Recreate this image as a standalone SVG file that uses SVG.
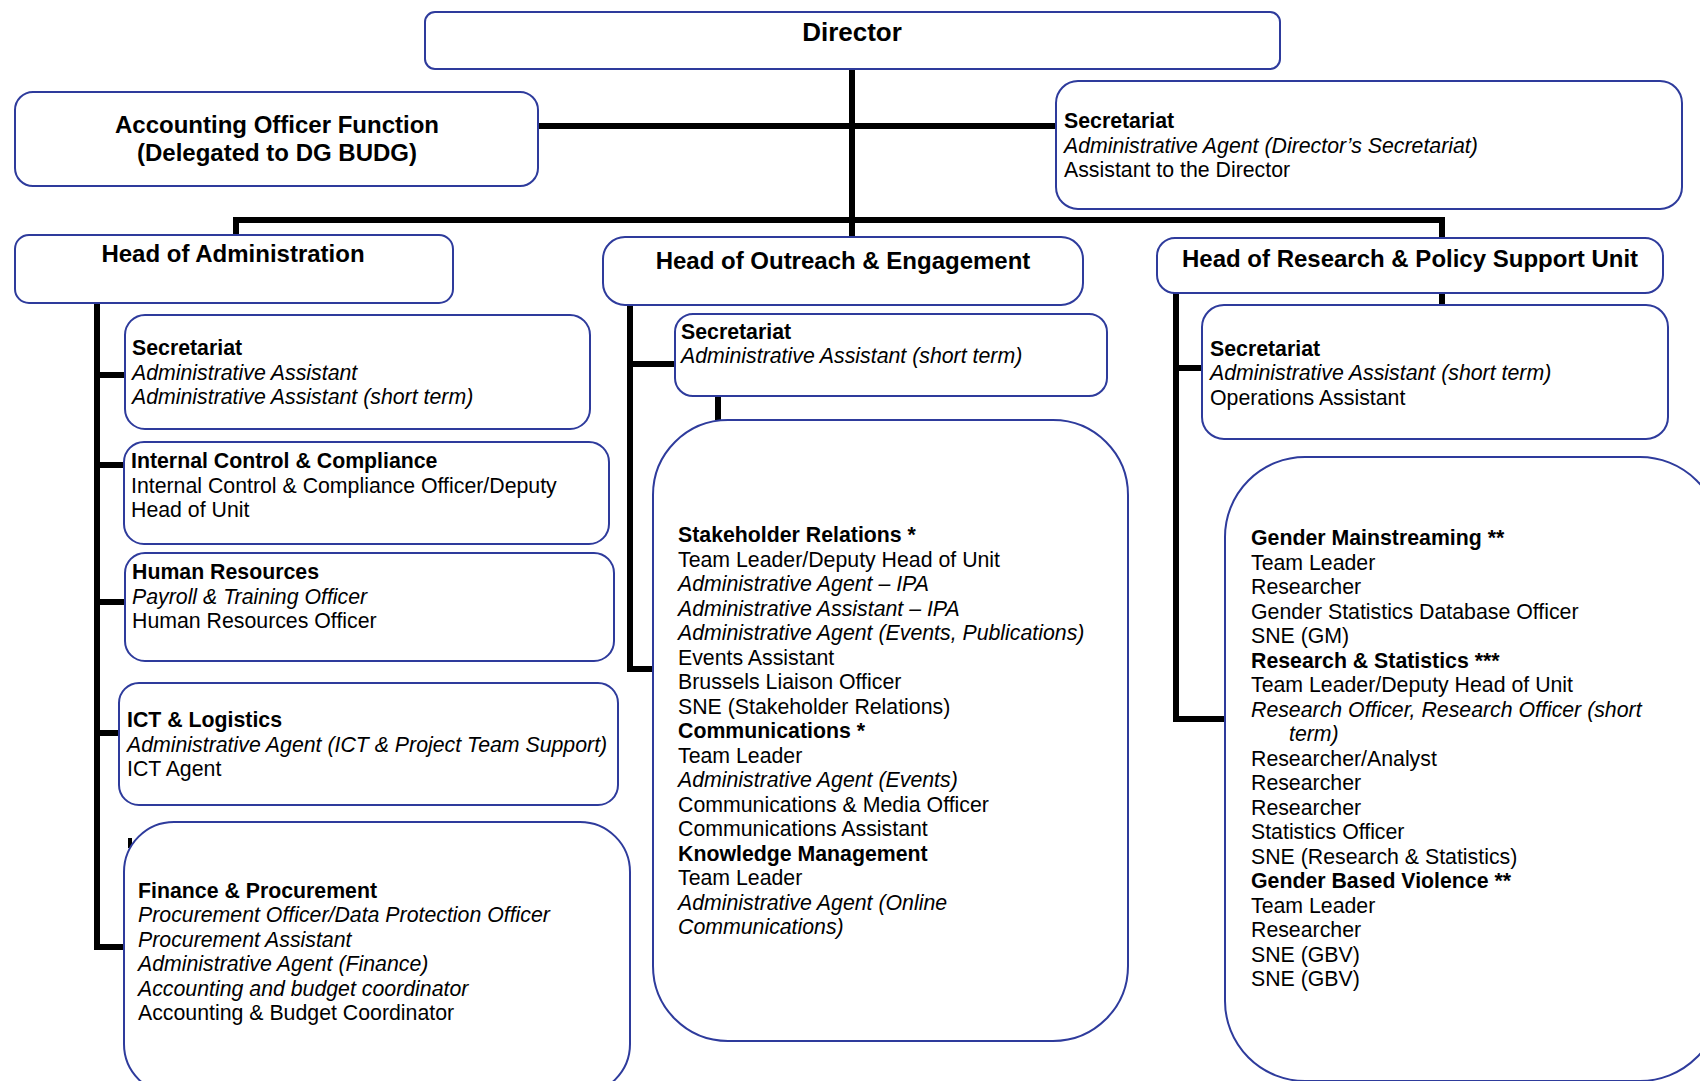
<svg xmlns="http://www.w3.org/2000/svg" width="1700" height="1081" viewBox="0 0 1700 1081">
<style>
.box{fill:#fff;stroke:#2E3B9C;stroke-width:2}
.ln{stroke:#000;stroke-width:6;fill:none;stroke-linejoin:miter}
text{font-family:"Liberation Sans",Arial,sans-serif;fill:#000}
.h{font-size:24px;font-weight:bold}
.d{font-size:26px;font-weight:bold}
.t{font-size:21.3px}
.b{font-weight:bold}
.i{font-style:italic}
</style>
<rect width="1700" height="1081" fill="#fff"/>
<g id="connectors">
<path class="ln" d="M852,69 V237"/>
<path class="ln" d="M538,126 H1056"/>
<path class="ln" d="M236,236 V220 H1442 V238"/>
<path class="ln" d="M97,303 V947 H124"/>
<path class="ln" d="M97,375 H125"/>
<path class="ln" d="M97,465 H124"/>
<path class="ln" d="M97,602 H125"/>
<path class="ln" d="M97,733 H119"/>
<rect x="128" y="838" width="4" height="10" fill="#000"/>
<path class="ln" d="M630,305 V669 H653"/>
<path class="ln" d="M630,364 H675"/>
<path class="ln" d="M718,396 V420"/>
<path class="ln" d="M1176,293 V719 H1225"/>
<path class="ln" d="M1176,368 H1202"/>
<path class="ln" d="M1442,293 V305"/>
</g>
<g id="director">
<rect class="box" x="425" y="12" width="855" height="57" rx="10"/>
<text class="d" x="852" y="41" text-anchor="middle">Director</text>
</g>
<g id="accounting-officer">
<rect class="box" x="15" y="92" width="523" height="94" rx="18"/>
<text class="h" x="277" y="133" text-anchor="middle">Accounting Officer Function</text>
<text class="h" x="277" y="161" text-anchor="middle">(Delegated to DG BUDG)</text>
</g>
<g id="director-secretariat">
<rect class="box" x="1056" y="81" width="626" height="128" rx="22"/>
<text class="t b" x="1064" y="128">Secretariat</text>
<text class="t i" x="1064" y="153">Administrative Agent (Director’s Secretariat)</text>
<text class="t" x="1064" y="177">Assistant to the Director</text>
</g>
<g id="head-administration">
<rect class="box" x="15" y="235" width="438" height="68" rx="14"/>
<text class="h" x="233" y="262" text-anchor="middle">Head of Administration</text>
</g>
<g id="head-outreach">
<rect class="box" x="603" y="237" width="480" height="68" rx="22"/>
<text class="h" x="843" y="269" text-anchor="middle">Head of Outreach &amp; Engagement</text>
</g>
<g id="head-research">
<rect class="box" x="1157" y="238" width="506" height="55" rx="18"/>
<text class="h" x="1410" y="267" text-anchor="middle">Head of Research &amp; Policy Support Unit</text>
</g>
<g id="admin-secretariat">
<rect class="box" x="125" y="315" width="465" height="114" rx="20"/>
<text class="t b" x="132" y="355">Secretariat</text>
<text class="t i" x="132" y="380">Administrative Assistant</text>
<text class="t i" x="132" y="404">Administrative Assistant (short term)</text>
</g>
<g id="internal-control">
<rect class="box" x="124" y="442" width="485" height="102" rx="20"/>
<text class="t b" x="131" y="468">Internal Control &amp; Compliance</text>
<text class="t" x="131" y="493">Internal Control &amp; Compliance Officer/Deputy</text>
<text class="t" x="131" y="517">Head of Unit</text>
</g>
<g id="human-resources">
<rect class="box" x="125" y="553" width="489" height="108" rx="20"/>
<text class="t b" x="132" y="579">Human Resources</text>
<text class="t i" x="132" y="604">Payroll &amp; Training Officer</text>
<text class="t" x="132" y="628">Human Resources Officer</text>
</g>
<g id="ict-logistics">
<rect class="box" x="119" y="683" width="499" height="122" rx="20"/>
<text class="t b" x="127" y="727">ICT &amp; Logistics</text>
<text class="t i" x="127" y="752">Administrative Agent (ICT &amp; Project Team Support)</text>
<text class="t" x="127" y="776">ICT Agent</text>
</g>
<g id="finance-procurement">
<rect class="box" x="124" y="822" width="506" height="272" rx="50"/>
<text class="t b" x="138" y="898">Finance &amp; Procurement</text>
<text class="t i" x="138" y="922">Procurement Officer/Data Protection Officer</text>
<text class="t i" x="138" y="947">Procurement Assistant</text>
<text class="t i" x="138" y="971">Administrative Agent (Finance)</text>
<text class="t i" x="138" y="996">Accounting and budget coordinator</text>
<text class="t" x="138" y="1020">Accounting &amp; Budget Coordinator</text>
</g>
<g id="outreach-secretariat">
<rect class="box" x="675" y="314" width="432" height="82" rx="18"/>
<text class="t b" x="681" y="339">Secretariat</text>
<text class="t i" x="681" y="363">Administrative Assistant (short term)</text>
</g>
<g id="outreach-units">
<rect class="box" x="653" y="420" width="475" height="621" rx="75"/>
<text class="t b" x="678" y="542">Stakeholder Relations *</text>
<text class="t" x="678" y="566.5">Team Leader/Deputy Head of Unit</text>
<text class="t i" x="678" y="591">Administrative Agent – IPA</text>
<text class="t i" x="678" y="615.5">Administrative Assistant – IPA</text>
<text class="t i" x="678" y="640">Administrative Agent (Events, Publications)</text>
<text class="t" x="678" y="664.5">Events Assistant</text>
<text class="t" x="678" y="689">Brussels Liaison Officer</text>
<text class="t" x="678" y="713.5">SNE (Stakeholder Relations)</text>
<text class="t b" x="678" y="738">Communications *</text>
<text class="t" x="678" y="762.5">Team Leader</text>
<text class="t i" x="678" y="787">Administrative Agent (Events)</text>
<text class="t" x="678" y="811.5">Communications &amp; Media Officer</text>
<text class="t" x="678" y="836">Communications Assistant</text>
<text class="t b" x="678" y="860.5">Knowledge Management</text>
<text class="t" x="678" y="885">Team Leader</text>
<text class="t i" x="678" y="909.5">Administrative Agent (Online</text>
<text class="t i" x="678" y="934">Communications)</text>
</g>
<g id="research-secretariat">
<rect class="box" x="1202" y="305" width="466" height="134" rx="22"/>
<text class="t b" x="1210" y="356">Secretariat</text>
<text class="t i" x="1210" y="380">Administrative Assistant (short term)</text>
<text class="t" x="1210" y="405">Operations Assistant</text>
</g>
<g id="research-units">
<rect class="box" x="1225" y="457" width="495" height="624" rx="80"/>
<text class="t b" x="1251" y="545">Gender Mainstreaming **</text>
<text class="t" x="1251" y="569.5">Team Leader</text>
<text class="t" x="1251" y="594">Researcher</text>
<text class="t" x="1251" y="618.5">Gender Statistics Database Officer</text>
<text class="t" x="1251" y="643">SNE (GM)</text>
<text class="t b" x="1251" y="667.5">Research &amp; Statistics ***</text>
<text class="t" x="1251" y="692">Team Leader/Deputy Head of Unit</text>
<text class="t i" x="1251" y="716.5">Research Officer, Research Officer (short</text>
<text class="t i" x="1289" y="741">term)</text>
<text class="t" x="1251" y="765.5">Researcher/Analyst</text>
<text class="t" x="1251" y="790">Researcher</text>
<text class="t" x="1251" y="814.5">Researcher</text>
<text class="t" x="1251" y="839">Statistics Officer</text>
<text class="t" x="1251" y="863.5">SNE (Research &amp; Statistics)</text>
<text class="t b" x="1251" y="888">Gender Based Violence **</text>
<text class="t" x="1251" y="912.5">Team Leader</text>
<text class="t" x="1251" y="937">Researcher</text>
<text class="t" x="1251" y="961.5">SNE (GBV)</text>
<text class="t" x="1251" y="986">SNE (GBV)</text>
</g>
</svg>
